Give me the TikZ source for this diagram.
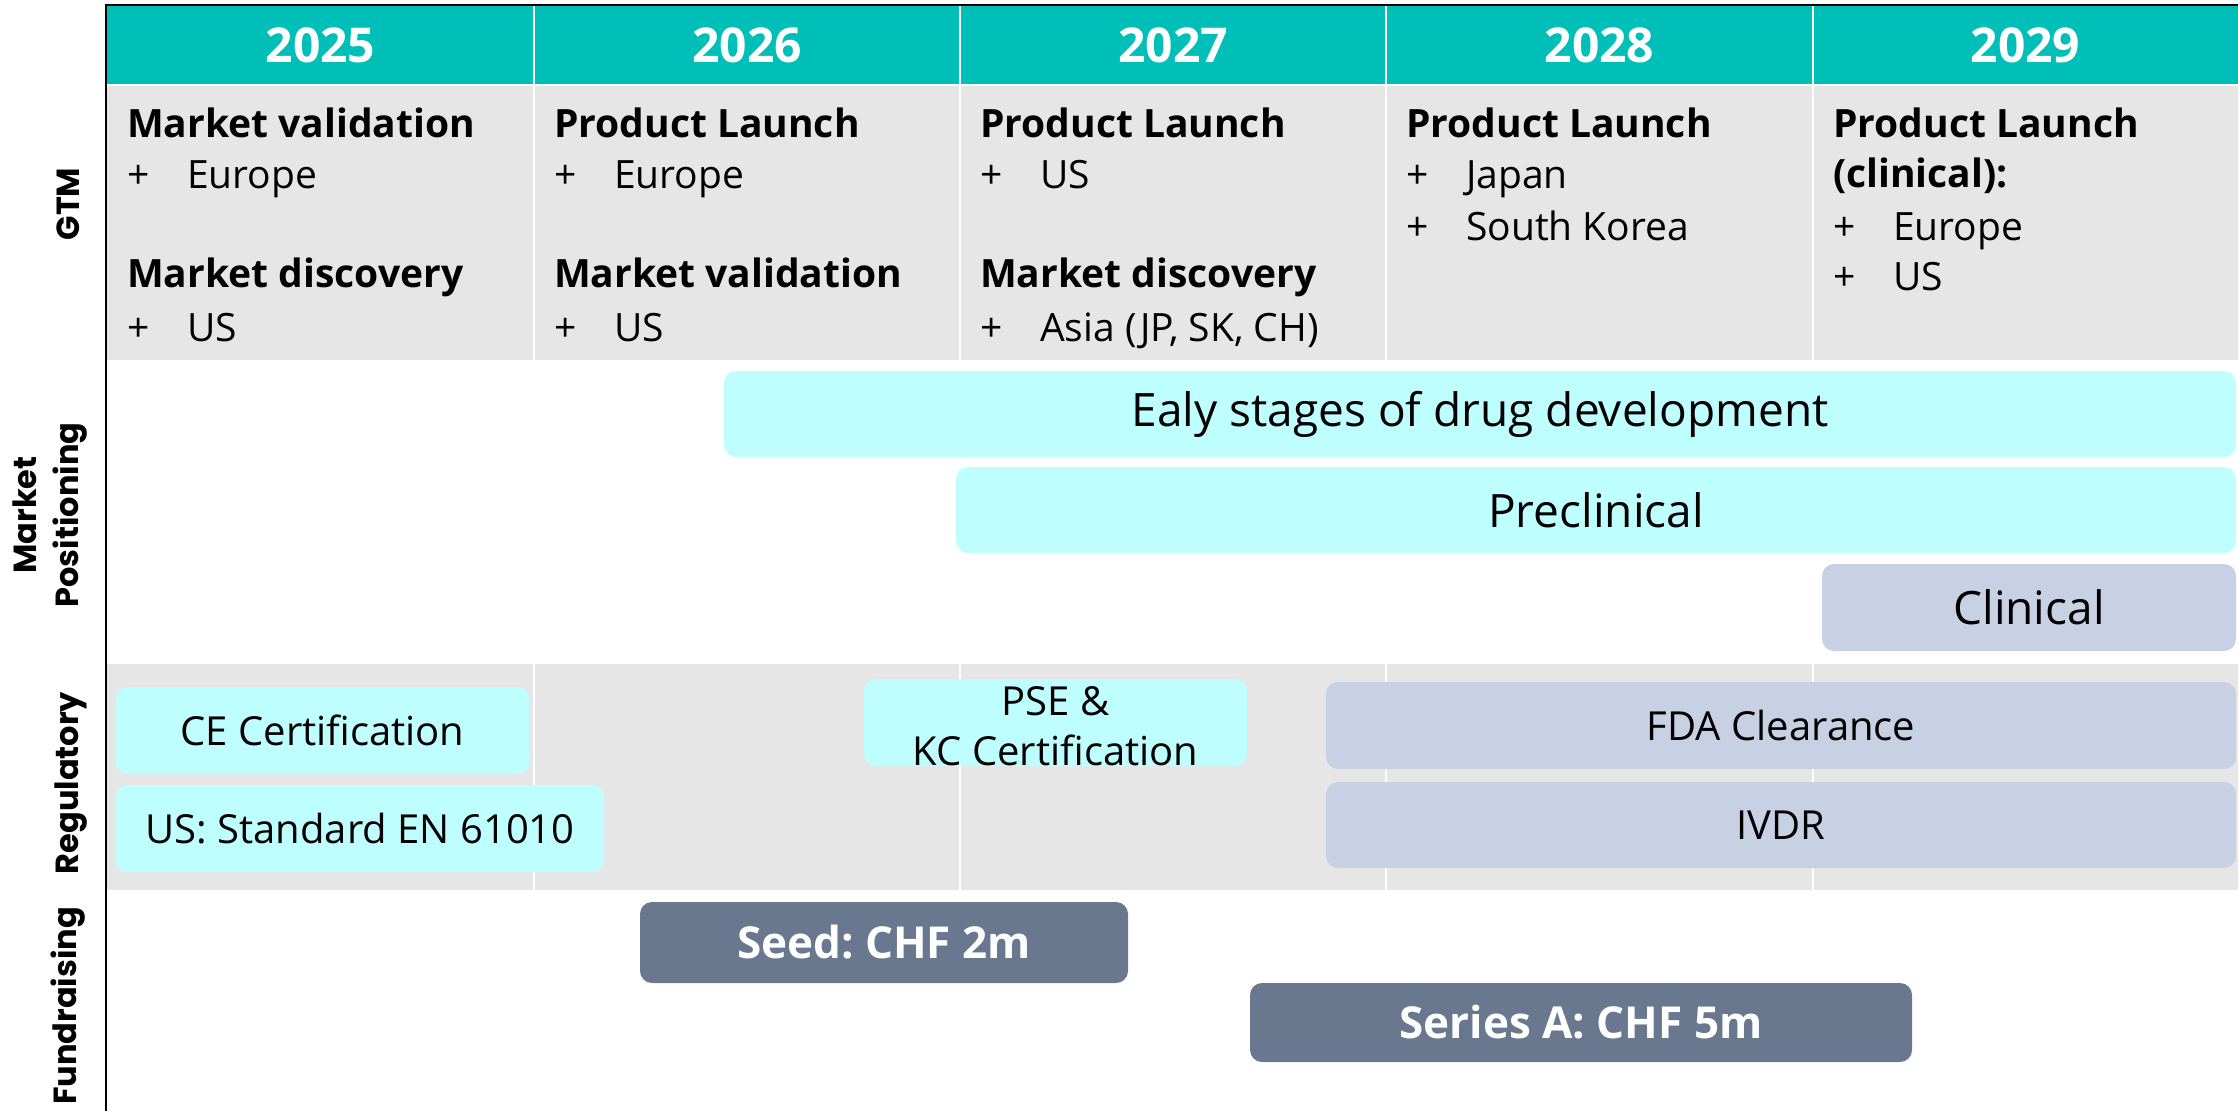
\documentclass[tikz,border=0pt]{standalone}
\usepackage{fontspec}
\setmainfont{Open Sans}
\newfontfamily\labfont{Poppins}
\frenchspacing
\definecolor{teal1}{HTML}{00BFB9}
\definecolor{gray1}{HTML}{E7E6E6}
\definecolor{cyan1}{HTML}{BFFEFE}
\definecolor{blue1}{HTML}{C8D0E4}
\definecolor{slate1}{HTML}{6A788F}
\tikzset{
  yearlbl/.style={text=white, font=\fontsize{48}{52}\selectfont\bfseries, inner sep=0},
  headtxt/.style={anchor=base west, inner sep=0, font=\fontsize{39}{46}\selectfont\bfseries},
  itemtxt/.style={anchor=base west, inner sep=0, font=\fontsize{39}{46}\selectfont},
  rowlbl/.style={rotate=90, align=center, inner sep=0, font=\fontsize{32}{42}\selectfont\labfont\bfseries},
  barbase/.style={rounded corners=12pt, inner sep=0, align=center},
  cyanbar/.style={barbase, fill=cyan1},
  bluebar/.style={barbase, fill=blue1},
  slatebar/.style={barbase, fill=slate1, text=white, font=\fontsize{44}{50}\selectfont\bfseries},
  bigtxt/.style={font=\fontsize{46}{52}\selectfont},
  midtxt/.style={font=\fontsize{40}{50}\selectfont},
  gridline/.style={white, line width=2.5pt},
  axisline/.style={black, line width=2.5pt}
}
\begin{document}
\begin{tikzpicture}[x=1pt, y=-1pt]
\useasboundingbox (0,0) rectangle (2238,1111);
\fill[white] (0,0) rectangle (2238,1111);
% backgrounds
\fill[teal1] (107,6) rectangle (2238,84);
\fill[gray1] (107,84) rectangle (2238,360);
\fill[gray1] (107,664) rectangle (2238,890);
\draw[white, line width=2pt] (107,85) -- (2238,85);
\foreach \x in {534,960,1386,1813} {
  \draw[gridline] (\x,6) -- (\x,360);
  \draw[gridline] (\x,664) -- (\x,890);
}
\draw[axisline] (106,5) -- (2238,5);
\draw[axisline] (106,4) -- (106,1111);
% years
\node[yearlbl] (y2025) at (320.5,45) {2025};
\node[yearlbl] (y2026) at (747,45) {2026};
\node[yearlbl] (y2027) at (1173,45) {2027};
\node[yearlbl] (y2028) at (1599.5,45) {2028};
\node[yearlbl] (y2029) at (2025.5,45) {2029};
% row labels
\node[rowlbl] (lgtm) at (68,204) {GTM};
\node[rowlbl] (lmp) at (50,515) {Market\\Positioning};
\node[rowlbl] (lreg) at (71,783) {Regulatory};
\node[rowlbl] (lfund) at (68,1006) {Fundraising};
% GTM 2025
\node[headtxt] (a1) at (127,137) {Market validation};
\node[itemtxt] (a2p) at (127,188) {+};
\node[itemtxt] (a2) at (187,188) {Europe};
\node[headtxt] (a3) at (127,287) {Market discovery};
\node[itemtxt] (a4p) at (127,341) {+};
\node[itemtxt] (a4) at (187,341) {US};
% GTM 2026
\node[headtxt] (b1) at (554,137) {Product Launch};
\node[itemtxt] (b2p) at (554,188) {+};
\node[itemtxt] (b2) at (614,188) {Europe};
\node[headtxt] (b3) at (554,287) {Market validation};
\node[itemtxt] (b4p) at (554,341) {+};
\node[itemtxt] (b4) at (614,341) {US};
% GTM 2027
\node[headtxt] (c1) at (980,137) {Product Launch};
\node[itemtxt] (c2p) at (980,188) {+};
\node[itemtxt] (c2) at (1040,188) {US};
\node[headtxt] (c3) at (980,287) {Market discovery};
\node[itemtxt] (c4p) at (980,341) {+};
\node[itemtxt] (c4) at (1040,341) {Asia (JP, SK, CH)};
% GTM 2028
\node[headtxt] (d1) at (1406,137) {Product Launch};
\node[itemtxt] (d2p) at (1406,188) {+};
\node[itemtxt] (d2) at (1466,188) {Japan};
\node[itemtxt] (d3p) at (1406,240) {+};
\node[itemtxt] (d3) at (1466,240) {South Korea};
% GTM 2029
\node[headtxt] (e1) at (1833,137) {Product Launch};
\node[headtxt] (e2) at (1833,187) {(clinical):};
\node[itemtxt] (e3p) at (1833,240) {+};
\node[itemtxt] (e3) at (1893,240) {Europe};
\node[itemtxt] (e4p) at (1833,290) {+};
\node[itemtxt] (e4) at (1893,290) {US};
% Market positioning
\node[cyanbar, bigtxt, minimum width=1512pt, minimum height=86pt] (early) at (1480,414) {Ealy stages of drug development};
\node[cyanbar, bigtxt, minimum width=1280pt, minimum height=86pt] (precl) at (1596,510) {Preclinical};
\node[bluebar, bigtxt, minimum width=414pt, minimum height=87pt] (clin) at (2029,607.5) {Clinical};
% Regulatory
\node[cyanbar, midtxt, minimum width=413pt, minimum height=87pt] (ce) at (322.5,730.5) {CE Certification};
\node[cyanbar, midtxt, minimum width=488pt, minimum height=87pt] (us) at (360,828.5) {US: Standard EN 61010};
\node[cyanbar, minimum width=383pt, minimum height=87pt] (pse) at (1055.5,722.5) {};
\node[midtxt, inner sep=0, align=center, anchor=base] (psetxt) at (1055.5,765) {PSE \&\\KC Certification};
\node[bluebar, midtxt, minimum width=910pt, minimum height=87pt] (fda) at (1781,725.5) {FDA Clearance};
\node[bluebar, midtxt, minimum width=910pt, minimum height=86pt] (ivdr) at (1781,825) {IVDR};
% Fundraising
\node[slatebar, minimum width=488pt, minimum height=81pt] (seed) at (884,942.5) {Seed: CHF 2m};
\node[slatebar, minimum width=662pt, minimum height=79pt] (seriesa) at (1581,1022.5) {Series A: CHF 5m};
\end{tikzpicture}
\end{document}
